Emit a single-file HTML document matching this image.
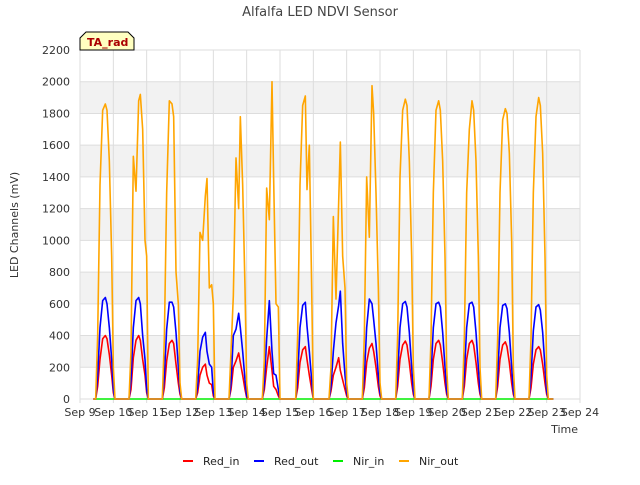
<!DOCTYPE html>
<html><head><meta charset="utf-8">
<style>
body{margin:0;background:#fff;font-family:"Liberation Sans","DejaVu Sans",sans-serif;}
svg text{font-family:"DejaVu Sans","Liberation Sans",sans-serif;}
</style></head>
<body>
<svg id="chart" width="640" height="480" xmlns="http://www.w3.org/2000/svg">
<rect width="640" height="480" fill="#fff"/>
<text x="320" y="16" text-anchor="middle" font-size="13" fill="#444">Alfalfa LED NDVI Sensor</text>
<g id="bands"></g>
<g id="grid"></g>
<g id="xticks"></g>
<g id="yticks"></g>
<g id="series"></g>
<text transform="translate(18,225) rotate(-90)" text-anchor="middle" font-size="11" fill="#333">LED Channels (mV)</text>
<text x="578" y="433" text-anchor="end" font-size="11" fill="#333">Time</text>
<g>
<path d="M80,50 L80,38 L86,32 L128,32 L134,38 L134,50 Z" fill="#ffffc0" stroke="#000" stroke-width="1"/>
<text x="87" y="46" font-size="11" font-weight="bold" fill="#aa0000">TA_rad</text>
</g>
<g font-size="11" fill="#222">
<g><line x1="183" y1="461" x2="193" y2="461" stroke="#ff0000" stroke-width="2"/><text x="203" y="465">Red_in</text></g>
<g><line x1="254" y1="461" x2="264" y2="461" stroke="#0000ff" stroke-width="2"/><text x="274" y="465">Red_out</text></g>
<g><line x1="333" y1="461" x2="343" y2="461" stroke="#00ee00" stroke-width="2"/><text x="353" y="465">Nir_in</text></g>
<g><line x1="399" y1="461" x2="409" y2="461" stroke="#ffa500" stroke-width="2"/><text x="419" y="465">Nir_out</text></g>
</g>
</svg>
<script>
const xTickLabels=["Sep 9","Sep 10","Sep 11","Sep 12","Sep 13","Sep 14","Sep 15","Sep 16","Sep 17","Sep 18","Sep 19","Sep 20","Sep 21","Sep 22","Sep 23","Sep 24"];
const yTickValues=[0,200,400,600,800,1000,1200,1400,1600,1800,2000,2200];
const dayStarts=[9,10,11,12,13,14,15,16,17,18,19,20,21,22];
const offsets=[0.47,0.53,0.6,0.68,0.76,0.81,0.88,0.95,1.0,1.05];
const nirOut=[
[0,400,1350,1820,1860,1820,1500,900,200,0],
[0,300,1530,1310,1880,1920,1700,1000,900,0],
[0,380,1300,1880,1860,1780,800,600,100,0],
[0,250,1050,1000,1280,1390,700,720,600,0],
[0,300,650,1520,1200,1780,1350,700,100,0],
[0,250,1330,1130,2000,1380,600,580,0,0],
[0,400,1350,1850,1910,1320,1600,700,0,0],
[0,200,1150,630,1240,1620,900,700,100,0],
[0,400,1400,1020,1975,1800,1300,700,100,0],
[0,400,1400,1820,1890,1850,1500,900,200,0],
[0,380,1300,1820,1880,1820,1500,900,200,0],
[0,380,1300,1700,1880,1820,1500,900,200,0],
[0,380,1300,1760,1830,1800,1550,1000,200,0],
[0,380,1300,1780,1900,1850,1550,900,150,0]];
const redOut=[
[0,150,450,620,640,600,450,250,60,0],
[0,120,450,620,640,600,400,250,60,0],
[0,140,440,610,610,580,420,200,50,0],
[0,80,300,390,420,300,220,200,40,0],
[0,100,400,440,540,450,300,120,20,0],
[0,100,380,620,300,160,150,60,0,0],
[0,140,450,590,610,460,300,120,0,0],
[0,80,300,480,590,680,350,150,40,0],
[0,140,450,630,600,500,350,150,40,0],
[0,150,450,600,615,580,420,200,50,0],
[0,150,450,600,610,580,420,200,50,0],
[0,150,450,600,610,580,420,200,50,0],
[0,150,450,590,600,570,420,200,50,0],
[0,140,430,580,595,560,420,200,50,0]];
const redIn=[
[0,80,250,380,400,380,280,150,40,0],
[0,60,260,370,400,370,250,150,40,0],
[0,70,240,350,370,350,220,100,30,0],
[0,40,150,200,220,150,100,90,20,0],
[0,60,200,240,290,230,150,60,10,0],
[0,60,200,330,180,80,60,20,0,0],
[0,70,230,310,330,250,150,60,0,0],
[0,50,150,200,260,180,120,60,20,0],
[0,70,230,320,350,300,200,80,20,0],
[0,80,250,340,365,340,230,100,30,0],
[0,80,250,350,370,340,230,100,30,0],
[0,80,250,350,370,340,230,100,30,0],
[0,80,250,340,360,330,230,100,30,0],
[0,70,220,310,330,310,220,100,30,0]];
const nirIn=[[0,0],[0,0],[0,0],[0,0],[0,0],[0,0],[0,0],[0,0],[0,0],[0,0],[0,0],[0,0],[0,0],[0,0]];

const NS="http://www.w3.org/2000/svg";
const X0=80,X1=580,Y0=399,Y1=50;
const xs=d=>X0+(d-9)/15*(X1-X0);
const ys=v=>Y0-v/2200*(Y0-Y1);
function mk(tag,attrs,parent){const e=document.createElementNS(NS,tag);for(const k in attrs)e.setAttribute(k,attrs[k]);parent.appendChild(e);return e;}
const bands=document.getElementById('bands'),grid=document.getElementById('grid');
for(let i=0;i<yTickValues.length-1;i++){
  if(i%2===1){const b=mk('rect',{x:X0,y:ys(yTickValues[i+1]),width:X1-X0,height:ys(yTickValues[i])-ys(yTickValues[i+1]),fill:'#f2f2f2'},bands);
  
  }
}
const yt=document.getElementById('yticks');
yTickValues.forEach(v=>{
  const l=mk('line',{x1:X0,x2:X1,y1:ys(v),y2:ys(v),stroke:'#dddddd','stroke-width':1},grid);
  
  
  const t=mk('text',{x:X0-10,y:ys(v)+4,'text-anchor':'end','font-size':11,fill:'#333'},yt);
  t.textContent=v;
  
  
});
const xt=document.getElementById('xticks');
xTickLabels.forEach((s,i)=>{
  const x=xs(9+i);
  const l=mk('line',{x1:x,x2:x,y1:Y1,y2:Y0+4,stroke:'#dddddd','stroke-width':1},grid);
  
  
  const t=mk('text',{x:x,y:Y0+17,'text-anchor':'middle','font-size':11,fill:'#333'},xt);
  t.textContent=s;
  
  
});
const sg=document.getElementById('series');
function pts(arr){
  let p=[];
  arr.forEach((day,i)=>{
    if(day.length===offsets.length){day.forEach((v,j)=>p.push(xs(dayStarts[i]+offsets[j])+','+ys(v)));}
    else{p.push(xs(dayStarts[i]+offsets[0])+','+ys(day[0]));p.push(xs(dayStarts[i]+offsets[offsets.length-1])+','+ys(day[1]));}
  });
  return [xs(9.4)+','+ys(0)].concat(p,[xs(23.2)+','+ys(0)]).join(' ');
}
[[nirIn,'#00ee00','series-nir-in'],[redIn,'#ff0000','series-red-in'],[redOut,'#0000ff','series-red-out'],[nirOut,'#ffa500','series-nir-out']].forEach(([a,c,n])=>{
  const pl=mk('polyline',{points:pts(a),fill:'none',stroke:c,'stroke-width':1.6,'stroke-linejoin':'round'},sg);
  
  
});
</script>
</body></html>
